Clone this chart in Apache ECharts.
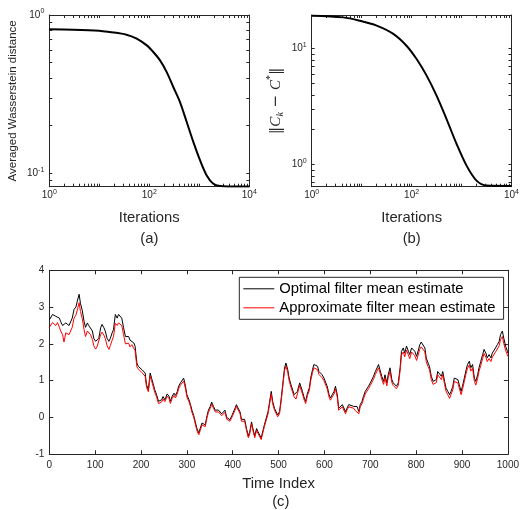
<!DOCTYPE html>
<html><head><meta charset="utf-8">
<script src="https://cdn.jsdelivr.net/npm/echarts@6/dist/echarts.min.js"></script>
<style>html,body{margin:0;padding:0;background:#fff}#c{width:522px;height:510px}</style>
</head><body><div id="c"></div>
<script>
// ---- (a) averaged Wasserstein distance vs iterations ----
const iterA = [1, 3, 10, 16, 35, 56, 89, 120, 164, 223, 302, 411, 560, 759, 1033, 1406, 1907, 2594, 4000, 10000];
const distA = [0.812, 0.808, 0.796, 0.781, 0.751, 0.709, 0.643, 0.584, 0.517, 0.436, 0.351, 0.282, 0.211, 0.158, 0.121, 0.097, 0.0859, 0.0831, 0.0826, 0.0825];
// ---- (b) ||C_k - C*|| vs iterations ----
const iterB = [1, 4.3, 9.2, 20, 43, 79, 126, 200, 316, 501, 794, 1259, 1995, 3162, 10000];
const normB = [19.2, 18.6, 17.4, 15.8, 13.4, 10.6, 8.13, 5.85, 3.93, 2.47, 1.51, 0.98, 0.728, 0.66, 0.655];
// ---- (c) filter mean estimates vs time index ----
const timeIndex = [
0,4,7,11,14,18,22,25,29,32,36,40,43,47,50,54,58,61,65,68,
72,76,79,83,86,90,94,97,101,104,108,112,115,119,122,126,130,133,137,140,
144,148,151,155,158,162,166,169,173,176,180,184,187,191,194,198,202,205,209,212,
216,220,223,227,230,234,238,241,245,248,
252,257,261,264,268,272,275,279,282,286,290,293,297,300,304,308,311,315,318,322,
326,329,333,336,340,344,347,351,354,358,362,365,369,372,376,380,383,387,390,394,
398,401,405,408,412,416,419,423,426,430,434,437,441,444,448,452,
455,462,469,477,484,487,491,498,502,505,509,513,516,520,523,527,534,538,541,546,
552,556,559,563,567,570,574,577,581,585,588,592,595,599,603,606,610,613,617,621,
624,628,631,635,639,642,646,649,653,657,664,667,671,675,678,682,685,689,693,696,
700,703,707,711,714,718,721,725,729,732,736,739,743,747,750,754,757,761,765,768,
772,775,779,783,786,790,793,797,801,804,808,811,815,819,822,826,829,833,837,840,
844,847,851,855,858,862,865,869,873,876,880,883,887,891,894,898,901,905,909,912,
916,919,923,927,930,934,937,941,945,948,952,955,959,963,966,970,973,977,981,984,
988,991,995,999,1000];
const optimalMean = [
2.65,2.7,2.8,2.85,2.75,2.8,2.7,2.6,2.5,2.45,2.57,2.6,2.5,2.55,2.7,2.94,3.0,3.16,3.35,3.1,
2.9,2.6,2.45,2.57,2.5,2.45,2.35,2.15,2.07,2.1,2.15,2.44,2.53,2.44,2.35,2.15,2.07,2.15,2.3,2.39,
2.8,2.7,2.8,2.78,2.7,2.44,2.2,2.15,2.2,2.1,2.15,2.03,1.94,1.48,1.39,1.35,1.3,1.25,1.21,0.89,
0.75,1.21,1.07,0.89,0.75,0.62,0.44,0.39,0.48,0.57,
0.48,0.64,0.58,0.44,0.58,0.66,0.6,0.7,0.85,0.94,0.98,1.07,0.85,0.62,0.5,0.35,0.2,0.05,-0.1,-0.3,
-0.42,-0.3,-0.15,-0.1,-0.2,0.05,0.2,0.3,0.42,0.3,0.2,0.25,0.2,0.22,0.1,0.05,0.2,0.0,0.05,-0.06,
0.05,0.1,0.25,0.35,0.39,0.15,-0.05,-0.1,-0.05,-0.3,-0.5,-0.4,-0.12,-0.3,-0.5,-0.3,
-0.38,-0.56,-0.2,0.16,0.71,0.44,0.25,0.07,0.16,0.44,0.89,1.35,1.48,1.3,1.07,0.89,0.62,0.57,0.71,0.94,
0.71,0.53,0.44,0.66,0.8,1.07,1.3,1.44,1.39,1.39,1.25,1.3,1.16,1.07,0.94,0.85,0.62,0.53,0.62,0.71,
0.85,0.62,0.25,0.21,0.35,0.39,0.16,0.25,0.35,0.3,0.3,0.25,0.3,0.16,0.35,0.44,0.57,0.71,0.75,0.85,
0.94,0.94,1.12,1.25,1.3,1.44,1.3,1.12,0.98,1.16,0.94,1.16,1.35,1.03,0.94,0.89,0.85,0.94,1.35,1.8,
1.89,1.75,1.94,1.8,1.71,1.89,1.94,1.8,1.66,1.71,1.98,2.05,2.03,1.89,1.62,1.48,1.39,1.12,0.98,0.94,
1.03,1.25,1.21,1.12,1.25,0.98,0.8,0.71,0.62,0.71,0.85,1.07,1.12,1.03,0.89,0.71,0.85,1.07,1.3,1.44,
1.53,1.35,1.44,1.07,0.98,1.16,1.35,1.53,1.71,1.85,1.75,1.62,1.71,1.62,1.75,1.71,1.89,1.98,2.07,2.25,
2.35,2.16,1.94,1.8,1.75];
const approxMean = [
2.45,2.5,2.58,2.62,2.5,2.58,2.45,2.35,2.25,2.05,2.3,2.35,2.25,2.3,2.45,2.7,2.78,2.92,3.12,2.88,
2.68,2.38,2.2,2.35,2.3,2.25,2.12,1.95,1.86,1.92,1.95,2.25,2.32,2.24,2.15,1.95,1.85,1.95,2.1,2.2,
2.56,2.5,2.57,2.55,2.5,2.25,2.0,1.95,2.02,1.92,1.98,1.88,1.82,1.38,1.32,1.28,1.22,1.18,1.12,0.82,
0.7,1.13,1.0,0.82,0.68,0.56,0.38,0.35,0.42,0.5,
0.43,0.58,0.52,0.38,0.52,0.6,0.53,0.64,0.78,0.88,0.92,0.99,0.78,0.56,0.44,0.3,0.14,0.0,-0.16,-0.36,
-0.47,-0.36,-0.2,-0.15,-0.25,0.0,0.14,0.25,0.36,0.25,0.15,0.2,0.15,0.17,0.05,0.0,0.14,-0.05,0.0,-0.1,
0.0,0.05,0.2,0.3,0.33,0.1,-0.1,-0.15,-0.1,-0.35,-0.55,-0.45,-0.17,-0.35,-0.55,-0.35,
-0.43,-0.6,-0.25,0.1,0.64,0.38,0.2,0.02,0.1,0.38,0.82,1.28,1.4,1.22,1.0,0.82,0.56,0.5,0.64,0.87,
0.64,0.47,0.38,0.6,0.73,1.0,1.22,1.35,1.3,1.3,1.17,1.22,1.08,1.0,0.87,0.78,0.56,0.47,0.56,0.64,
0.78,0.55,0.2,0.15,0.29,0.33,0.1,0.2,0.29,0.24,0.25,0.19,0.24,0.1,0.29,0.38,0.5,0.64,0.68,0.78,
0.87,0.87,1.04,1.17,1.22,1.35,1.22,1.04,0.9,1.08,0.86,1.08,1.25,0.95,0.87,0.82,0.78,0.87,1.27,1.7,
1.78,1.65,1.83,1.7,1.6,1.78,1.82,1.68,1.55,1.6,1.86,1.92,1.9,1.78,1.52,1.38,1.3,1.03,0.9,0.86,
0.95,1.16,1.12,1.03,1.16,0.9,0.72,0.62,0.52,0.62,0.76,0.98,1.03,0.94,0.8,0.62,0.76,0.98,1.2,1.34,
1.43,1.26,1.34,0.98,0.88,1.06,1.25,1.42,1.6,1.74,1.64,1.52,1.6,1.52,1.64,1.6,1.78,1.86,1.95,2.12,
2.2,2.02,1.82,1.7,1.66];
const seriesNames = ['Optimal filter mean estimate', 'Approximate filter mean estimate'];
// tick labels
const logXLabels = [1, 100, 10000];
const yLabelsA = [0.1, 1];
const yLabelsB = [1, 10];

const FONT = '"Liberation Sans", Arial, Helvetica, sans-serif';
const AX = '#262626';
const LINE_ICON = 'path://M0,0H62V2H0Z';

function logTicks(minE, maxE) {
  const out = [];
  for (let e = minE; e < maxE; e++) for (let m = 1; m < 10; m++) out.push(+(m * Math.pow(10, e)).toPrecision(6));
  out.push(Math.pow(10, maxE));
  return out;
}
const powRich = {
  b: { fontSize: 10, lineHeight: 14, fontFamily: FONT, color: AX },
  s: { fontSize: 7, lineHeight: 7, verticalAlign: 'top', fontFamily: FONT, color: AX }
};
function powLabel(v) { const e = Math.round(Math.log10(v)); return '{b|10}{s|' + e + '}'; }

function logAxis(grid, pos, min, max, ticks, labels, extra) {
  const ax = {
    type: 'log', logBase: 10, gridIndex: grid, position: pos, min: min, max: max,
    axisLine: { show: true, onZero: false, lineStyle: { color: AX, width: 1 } },
    axisTick: { show: true, inside: true, length: 3, customValues: ticks, lineStyle: { color: AX, width: 1 } },
    axisLabel: labels ? { show: true, customValues: labels, formatter: powLabel, rich: powRich, margin: (pos === 'bottom' ? 2 : 5) } : { show: false },
    splitLine: { show: false }, minorTick: { show: false }, minorSplitLine: { show: false }
  };
  return Object.assign(ax, extra || {});
}
function linAxis(grid, pos, min, max, interval, showLabel, extra) {
  const ax = {
    type: 'value', gridIndex: grid, position: pos, min: min, max: max, interval: interval,
    axisLine: { show: true, onZero: false, lineStyle: { color: AX, width: 1 } },
    axisTick: { show: true, inside: true, length: 4, lineStyle: { color: AX, width: 1 } },
    axisLabel: { show: showLabel, fontSize: 10, lineHeight: 14, fontFamily: FONT, color: AX, margin: (pos === 'bottom' ? 4 : 5), formatter: v => String(v) },
    splitLine: { show: false }
  };
  return Object.assign(ax, extra || {});
}

const xTicks = logTicks(0, 4);
const yTicksA = logTicks(-2, 0).filter(v => v >= 0.0823);
const yTicksB = logTicks(-1, 2).filter(v => v >= 0.645 && v <= 19.5);

const nameStyle = { fontSize: 14.8, fontFamily: FONT, color: AX };

const option = {
  animation: false,
  backgroundColor: '#ffffff',
  grid: [
    { left: 49.3, top: 15, width: 200, height: 171.7 },
    { left: 311.7, top: 15, width: 200, height: 171.7 },
    { left: 49.3, top: 270.3, width: 463, height: 184 }
  ],
  xAxis: [
    logAxis(0, 'bottom', 1, 10000, xTicks, logXLabels, { name: 'Iterations', nameLocation: 'middle', nameGap: 24, nameTextStyle: nameStyle }),
    logAxis(0, 'top', 1, 10000, xTicks, null),
    logAxis(1, 'bottom', 1, 10000, xTicks, logXLabels, { name: 'Iterations', nameLocation: 'middle', nameGap: 24, nameTextStyle: nameStyle }),
    logAxis(1, 'top', 1, 10000, xTicks, null),
    linAxis(2, 'bottom', 0, 1000, 100, true, { name: 'Time Index', nameLocation: 'middle', nameGap: 22, nameTextStyle: nameStyle }),
    linAxis(2, 'top', 0, 1000, 100, false)
  ],
  yAxis: [
    logAxis(0, 'left', 0.0823, 1, yTicksA, yLabelsA, { name: 'Averaged Wasserstein distance', nameLocation: 'middle', nameRotate: 90, nameGap: 30, nameTextStyle: { fontSize: 11.5, fontFamily: FONT, color: AX } }),
    logAxis(0, 'right', 0.0823, 1, yTicksA, null),
    logAxis(1, 'left', 0.645, 19.5, yTicksB, yLabelsB, {
      name: '{n|‖}{i|C}{sub|k}{n| − }{i|C}{sup|*}{n|‖}', nameLocation: 'middle', nameRotate: 90, nameGap: 26,
      nameTextStyle: {
        color: AX,
        rich: {
          n: { fontSize: 15, lineHeight: 20, fontFamily: '"DejaVu Serif", "Liberation Serif", serif', color: AX },
          i: { fontSize: 15, lineHeight: 20, fontStyle: 'italic', fontFamily: '"Liberation Serif", serif', color: AX },
          sub: { fontSize: 10, lineHeight: 9, verticalAlign: 'bottom', fontStyle: 'italic', fontFamily: '"Liberation Serif", serif', color: AX },
          sup: { fontSize: 10, lineHeight: 9, verticalAlign: 'top', fontFamily: '"Liberation Serif", serif', color: AX }
        }
      }
    }),
    logAxis(1, 'right', 0.645, 19.5, yTicksB, null),
    linAxis(2, 'left', -1, 4, 1, true),
    linAxis(2, 'right', -1, 4, 1, false)
  ],
  legend: {
    data: [
      { name: seriesNames[0], icon: LINE_ICON },
      { name: seriesNames[1], icon: LINE_ICON }
    ],
    orient: 'vertical', left: 239.3, top: 277.3, symbolKeepAspect: true,
    itemWidth: 31, itemHeight: 10, itemGap: 3, padding: [3.5, 8, 3.5, 4],
    borderColor: AX, borderWidth: 1, backgroundColor: '#ffffff',
    textStyle: { fontSize: 14.8, lineHeight: 16, fontFamily: FONT, color: '#000' }
  },
  graphic: [
    { type: 'text', x: 149.3, y: 238.5, style: { text: '(a)', font: '14.8px ' + FONT, fill: AX, textAlign: 'center', textVerticalAlign: 'middle' } },
    { type: 'text', x: 411.7, y: 238.5, style: { text: '(b)', font: '14.8px ' + FONT, fill: AX, textAlign: 'center', textVerticalAlign: 'middle' } },
    { type: 'text', x: 280.8, y: 502, style: { text: '(c)', font: '14.8px ' + FONT, fill: AX, textAlign: 'center', textVerticalAlign: 'middle' } }
  ],
  series: [
    { type: 'line', xAxisIndex: 0, yAxisIndex: 0, data: iterA.map((x, i) => [x, distA[i]]), symbol: 'none', smooth: 0.3, lineStyle: { color: '#000', width: 2 }, itemStyle: { color: '#000' } },
    { type: 'line', xAxisIndex: 2, yAxisIndex: 2, data: iterB.map((x, i) => [x, normB[i]]), symbol: 'none', smooth: 0.3, lineStyle: { color: '#000', width: 2 }, itemStyle: { color: '#000' } },
    { type: 'line', name: seriesNames[0], xAxisIndex: 4, yAxisIndex: 4, data: timeIndex.map((t, i) => [t, optimalMean[i]]), symbol: 'none', lineStyle: { color: '#000', width: 1 }, itemStyle: { color: '#000' } },
    { type: 'line', name: seriesNames[1], xAxisIndex: 4, yAxisIndex: 4, data: timeIndex.map((t, i) => [t, approxMean[i]]), symbol: 'none', lineStyle: { color: '#ff0000', width: 1 }, itemStyle: { color: '#ff0000' } }
  ]
};
const chart = echarts.init(document.getElementById('c'), null, { renderer: 'canvas' });
chart.setOption(option);
</script>
</body></html>
